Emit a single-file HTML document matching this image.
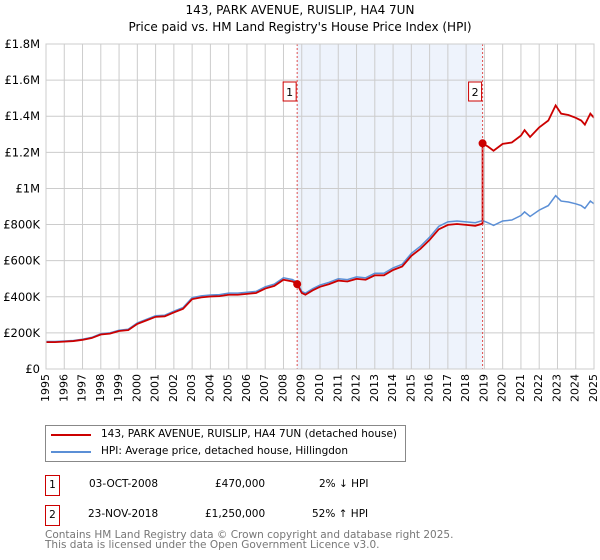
<!DOCTYPE html>
<html><head><meta charset="utf-8"><style>
body{margin:0;background:#fff;font-family:"DejaVu Sans","Liberation Sans",sans-serif;}
#wrap{position:relative;width:600px;height:560px;overflow:hidden;}
.t{position:absolute;white-space:nowrap;}
</style></head><body>
<div id="wrap">
<svg id="chart" width="600" height="420" style="position:absolute;left:0;top:0"></svg>
<div class="t" style="left:0;width:600px;text-align:center;top:3px;font-size:12px;color:#000">143, PARK AVENUE, RUISLIP, HA4 7UN</div>
<div class="t" style="left:0;width:600px;text-align:center;top:20px;font-size:12px;color:#000">Price paid vs. HM Land Registry's House Price Index (HPI)</div>
<div style="position:absolute;left:45px;top:425px;width:359px;height:35px;border:1px solid #888">
 <div style="position:absolute;left:5px;top:8px;width:40px;height:2px;background:#cc0000"></div>
 <div class="t" style="left:55px;top:2px;font-size:10.5px">143, PARK AVENUE, RUISLIP, HA4 7UN (detached house)</div>
 <div style="position:absolute;left:5px;top:25px;width:40px;height:2px;background:#5b8fd6"></div>
 <div class="t" style="left:55px;top:19px;font-size:10.5px">HPI: Average price, detached house, Hillingdon</div>
</div>
<div>
 <div class="t" style="left:45px;top:475px;width:13px;height:19px;border:1px solid #cc0000;font-size:10.5px;text-align:center;line-height:19px">1</div>
 <div class="t" style="left:89px;top:478px;font-size:10.5px">03-OCT-2008</div>
 <div class="t" style="left:215px;top:478px;font-size:10.5px">£470,000</div>
 <div class="t" style="left:319px;top:478px;font-size:10.5px">2% ↓ HPI</div>
</div>
<div>
 <div class="t" style="left:45px;top:505px;width:13px;height:19px;border:1px solid #cc0000;font-size:10.5px;text-align:center;line-height:19px">2</div>
 <div class="t" style="left:88px;top:508px;font-size:10.5px">23-NOV-2018</div>
 <div class="t" style="left:205px;top:508px;font-size:10.5px">£1,250,000</div>
 <div class="t" style="left:312px;top:508px;font-size:10.5px">52% ↑ HPI</div>
</div>
<div class="t" style="left:45px;top:530px;font-size:10.5px;color:#777;line-height:10px">Contains HM Land Registry data © Crown copyright and database right 2025.<br>This data is licensed under the Open Government Licence v3.0.</div>
</div>
<script>
const hpiYears=[1995,1995.5,1996,1996.5,1997,1997.5,1998,1998.5,1999,1999.5,2000,2000.5,2001,2001.5,2002,2002.5,2003,2003.5,2004,2004.5,2005,2005.5,2006,2006.5,2007,2007.5,2008,2008.5,2008.75,2009,2009.2,2009.6,2010,2010.5,2011,2011.5,2012,2012.5,2013,2013.5,2014,2014.5,2015,2015.5,2016,2016.5,2017,2017.5,2018,2018.5,2018.9,2019.2,2019.5,2020,2020.5,2021,2021.2,2021.5,2022,2022.5,2022.9,2023.2,2023.6,2024,2024.3,2024.5,2024.8,2025];
const hpiValues=[152,152,155,158,165,175,195,200,215,220,255,275,295,298,320,340,395,405,410,412,420,420,425,430,455,470,505,495,480,430,420,445,465,480,500,495,510,505,530,530,560,580,640,680,730,790,815,820,815,810,822,810,795,820,825,850,870,845,880,905,960,930,925,915,905,890,930,915];
const saleYears=[2008.75,2018.9];
const saleValues=[470,1250];
const yTicks=[0,200,400,600,800,1000,1200,1400,1600,1800];
const yTickLabels=["£0","£200K","£400K","£600K","£800K","£1M","£1.2M","£1.4M","£1.6M","£1.8M"];
const xTicks=[1995,1996,1997,1998,1999,2000,2001,2002,2003,2004,2005,2006,2007,2008,2009,2010,2011,2012,2013,2014,2015,2016,2017,2018,2019,2020,2021,2022,2023,2024,2025];

const L=46,R=594,T=44,B=369;
const x=v=>L+(v-1995)/30*(R-L);
const y=v=>B-v/1800*(B-T);
const svg=document.getElementById('chart');
const NS='http://www.w3.org/2000/svg';
const FF='DejaVu Sans, Liberation Sans, sans-serif';
function mk(tag,attrs,parent){const e=document.createElementNS(NS,tag);for(const k in attrs)e.setAttribute(k,attrs[k]);(parent||svg).appendChild(e);return e;}

const band=mk('rect',{x:x(saleYears[0]),y:T,width:x(saleYears[1])-x(saleYears[0]),height:B-T,fill:'#eef3fc'});


xTicks.forEach(t=>{const g=mk('line',{x1:x(t),x2:x(t),y1:T,y2:B,stroke:'#ccc','stroke-width':1});


const lb=mk('text',{x:0,y:0,'font-size':11,'text-anchor':'end','dominant-baseline':'middle',transform:`translate(${x(t)},${B+5}) rotate(-90)`,fill:'#000','font-family':FF});lb.textContent=t;

});
yTicks.forEach((t,i)=>{const g=mk('line',{x1:L,x2:R,y1:y(t),y2:y(t),stroke:'#ccc','stroke-width':1});


const lb=mk('text',{x:L-6,y:y(t)+4,'font-size':11.5,'text-anchor':'end',fill:'#000','font-family':FF});lb.textContent=yTickLabels[i];

});

function interp(yr){for(let i=1;i<hpiYears.length;i++){if(yr<=hpiYears[i]){const f=(yr-hpiYears[i-1])/(hpiYears[i]-hpiYears[i-1]);return hpiValues[i-1]+f*(hpiValues[i]-hpiValues[i-1]);}}return hpiValues[hpiValues.length-1];}
const hp=mk('polyline',{points:hpiYears.map((yr,i)=>x(yr)+','+y(hpiValues[i])).join(' '),fill:'none',stroke:'#5b8fd6','stroke-width':1.5});


const r0=saleValues[0]/interp(saleYears[0]), r1=saleValues[1]/interp(saleYears[1]);
let pts=[];
hpiYears.forEach((yr,i)=>{if(yr<saleYears[1])pts.push(x(yr)+','+y(hpiValues[i]*r0));});
pts.push(x(saleYears[1])+','+y(interp(saleYears[1])*r0));
pts.push(x(saleYears[1])+','+y(saleValues[1]));
hpiYears.forEach((yr,i)=>{if(yr>saleYears[1])pts.push(x(yr)+','+y(hpiValues[i]*r1));});
const pl=mk('polyline',{points:pts.join(' '),fill:'none',stroke:'#cc0000','stroke-width':1.8});


saleYears.forEach((yr,i)=>{
 const vl=mk('line',{x1:x(yr),x2:x(yr),y1:T,y2:B,stroke:'#e05050','stroke-width':1,'stroke-dasharray':'2,2'});
 
 
 const bx=mk('rect',{x:x(yr)-14,y:T+38,width:13,height:19,fill:'#fff',stroke:'#cc0000'});
 
 
 const tx=mk('text',{x:x(yr)-7.5,y:T+52,'font-size':11,'text-anchor':'middle','font-family':FF});tx.textContent=String(i+1);
 
 
 const c=mk('circle',{cx:x(yr),cy:y(saleValues[i]),r:4,fill:'#cc0000'});
 
 
});
const ax=mk('rect',{x:L,y:T,width:R-L,height:B-T,fill:'none',stroke:'#ccc'});


</script>
</body></html>
